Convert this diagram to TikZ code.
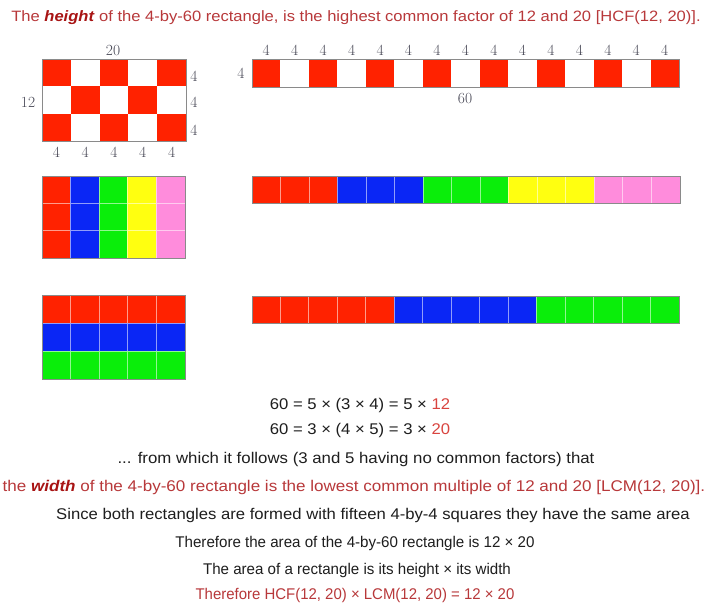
\documentclass[tikz,border=0pt]{standalone}
\usepackage{fontspec}
\newfontfamily\arial{Liberation Sans}
\definecolor{cred}{HTML}{FF2200}
\definecolor{cblue}{HTML}{0A26F5}
\definecolor{cgreen}{HTML}{0AEE0A}
\definecolor{cyellow}{HTML}{FFFF10}
\definecolor{cpink}{HTML}{FF8CDC}
\definecolor{titlered}{HTML}{B8383A}
\definecolor{dred}{HTML}{A81414}
\definecolor{eqred}{HTML}{D9443F}
\definecolor{txtc}{HTML}{1E1E1E}
\definecolor{lblgray}{HTML}{484856}
\definecolor{edgegray}{HTML}{8A8A8A}
\tikzset{
  txt/.style={font=\arial\fontsize{15}{18}\selectfont, text=txtc, inner sep=0pt, anchor=center},
  txtbig/.style={txt, font=\arial\fontsize{15.5}{18}\selectfont},
  ttl/.style={font=\arial\fontsize{15}{17}\selectfont, text=titlered, inner sep=0pt, anchor=center},
  lbl/.style={font=\fontsize{15.5}{17}\selectfont, text=lblgray, inner sep=0pt, anchor=center},
  outline/.style={draw=edgegray, line width=0.9pt},
}
\begin{document}
\begin{tikzpicture}[x=1pt,y=-1pt]
\useasboundingbox (0,0) rectangle (708,608);
\fill[white] (0,0) rectangle (708,608);

% title
\node[ttl] (title) at (356,18) {\scalebox{1.103}[1]{The {\color{dred}\textbf{\textit{height}}} of the 4-by-60 rectangle, is the highest common factor of 12 and 20 [HCF(12, 20)].}};

% ---- checkerboard 12 x 20
\foreach \c in {0,...,4}{
  \foreach \r in {0,1,2}{
    \pgfmathtruncatemacro\pp{mod(\c+\r,2)}
    \ifnum\pp=0
      \fill[cred] ({42+\c*28.8},{59+\r*27.333}) rectangle ++(28.8,27.333);
    \fi
  }
}
\draw[outline] (42,59) rectangle (186,141);
\node[lbl] (l20) at (113,50) {20};
\node[lbl] (l12) at (28,102) {12};
\foreach \r/\yy in {0/76,1/102,2/130}{
  \node[lbl] (lr\r) at (194,\yy) {4};
}
\foreach \c in {0,...,4}{
  \node[lbl] (lb\c) at ({56.4+\c*28.8},152) {4};
}

% ---- strip 4 x 60
\foreach \c in {0,...,14}{
  \pgfmathtruncatemacro\pp{mod(\c,2)}
  \ifnum\pp=0
    \fill[cred] ({252+\c*28.467},59) rectangle ++(28.467,28);
  \fi
  \node[lbl] (ls\c) at ({266.2+\c*28.467},50) {4};
}
\draw[outline] (252,59) rectangle (679,87);
\node[lbl] (lsl) at (241,73) {4};
\node[lbl] (l60) at (465,98) {60};

% ---- middle left: columns
\foreach \col [count=\c from 0] in {cred,cblue,cgreen,cyellow,cpink}{
  \foreach \r in {0,1,2}{
    \filldraw[fill=\col, draw=\col!45!white, line width=0.9pt] ({42+\c*28.6},{176+\r*27.333}) rectangle ++(28.6,27.333);
  }
}
\draw[outline] (42,176) rectangle (185,258);

% ---- middle right: 15 cells in groups of 3
\foreach \col [count=\g from 0] in {cred,cblue,cgreen,cyellow,cpink}{
  \foreach \k in {0,1,2}{
    \filldraw[fill=\col, draw=\col!45!white, line width=0.9pt] ({252+(3*\g+\k)*28.533},176) rectangle ++(28.533,27);
  }
}
\draw[outline] (252,176) rectangle (680,203);

% ---- bottom left: rows
\foreach \col [count=\r from 0] in {cred,cblue,cgreen}{
  \foreach \c in {0,...,4}{
    \filldraw[fill=\col, draw=\col!45!white, line width=0.9pt] ({42+\c*28.6},{295+\r*28}) rectangle ++(28.6,28);
  }
}
\draw[outline] (42,295) rectangle (185,379);

% ---- bottom right: 15 cells in groups of 5
\foreach \col [count=\g from 0] in {cred,cblue,cgreen}{
  \foreach \k in {0,...,4}{
    \filldraw[fill=\col, draw=\col!45!white, line width=0.9pt] ({252+(5*\g+\k)*28.467},296) rectangle ++(28.467,27);
  }
}
\draw[outline] (252,296) rectangle (679,323);

% ---- text
\node[txtbig] (eq1) at (360,405) {\scalebox{1.075}[1]{60 = 5 × (3 × 4) = 5 × {\color{eqred}12}}};
\node[txtbig] (eq2) at (360,430) {\scalebox{1.075}[1]{60 = 3 × (4 × 5) = 3 × {\color{eqred}20}}};
\node[txtbig] (t1) at (356,459) {\scalebox{1.084}[1]{... from which it follows (3 and 5 having no common factors) that}};
\node[txtbig, text=titlered] (t2) at (354,487) {\scalebox{1.099}[1]{the {\color{dred}\textbf{\textit{width}}} of the 4-by-60 rectangle is the lowest common multiple of 12 and 20 [LCM(12, 20)].}};
\node[txtbig] (t3) at (373,515) {\scalebox{1.075}[1]{Since both rectangles are formed with fifteen 4-by-4 squares they have the same area}};
\node[txtbig] (t4) at (355,543) {\scalebox{0.975}[1]{Therefore the area of the 4-by-60 rectangle is 12 × 20}};
\node[txtbig] (t5) at (357,570) {\scalebox{0.975}[1]{The area of a rectangle is its height × its width}};
\node[txtbig, text=titlered] (t6) at (355,595) {\scalebox{0.965}[1]{Therefore HCF(12, 20) × LCM(12, 20) = 12 × 20}};
\end{tikzpicture}
\end{document}
